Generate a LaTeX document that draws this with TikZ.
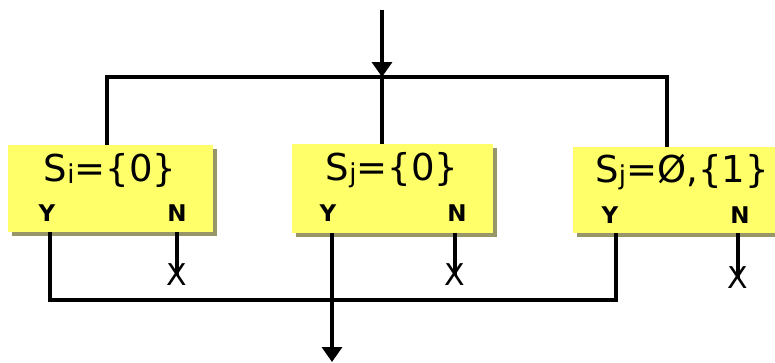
\documentclass[tikz,border=0pt]{standalone}
\usepackage{fontspec}
\setmainfont{DejaVu Sans}
\usetikzlibrary{arrows.meta,shadows}
\definecolor{boxyellow}{RGB}{255,255,105}
\definecolor{shadowc}{RGB}{150,150,105}
\newcommand{\subsc}[1]{{\fontsize{26}{26}\selectfont\raisebox{-2pt}{#1}}}
\begin{document}
\begin{tikzpicture}[x=1pt,y=-1pt,
  box/.style={fill=boxyellow, inner sep=0pt,
    drop shadow={shadow xshift=3.5pt,shadow yshift=-3.5pt,fill=shadowc,opacity=1}},
  big/.style={font=\fontsize{37}{42}\selectfont, inner sep=0pt},
  yn/.style={font=\fontsize{23}{26}\selectfont\bfseries, inner sep=0pt},
  xmark/.style={font=\fontsize{30}{34}\selectfont, inner sep=0pt},
  wire/.style={line width=3.4pt},
  arr/.style={-{Triangle[width=20pt,length=15pt]}}]
\useasboundingbox (0,0) rectangle (775,362);
\clip (0,0) rectangle (775,362);
% boxes
\node[box, minimum width=205pt, minimum height=87pt] (b1) at (110.5,188.5) {};
\node[box, minimum width=201pt, minimum height=89pt] (b2) at (392.5,188.5) {};
\node[box, minimum width=215pt, minimum height=86pt] (b3) at (680.5,190) {};
% texts
\node[big] (t1) at (110,170) {S\subsc{i}=\{0\}};
\node[big] (t2) at (392,170) {S\subsc{j}=\{0\}};
\node[big] (t3) at (682,172) {S\subsc{j}=Ø,\{1\}};
\node[yn] (y1) at (47,213) {Y};
\node[yn] (n1) at (177,213) {N};
\node[yn] (y2) at (328,213) {Y};
\node[yn] (n2) at (457,213) {N};
\node[yn] (y3) at (610,215) {Y};
\node[yn] (n3) at (740,215) {N};
% X marks
\node[xmark] (x1) at (177,275) {X};
\node[xmark] (x2) at (455,275) {X};
\node[xmark] (x3) at (738,278) {X};
% coordinates
\coordinate (in) at (382,10);
\coordinate (hub) at (382,77);
\coordinate (lft) at (107,77);
\coordinate (rgt) at (667,77);
\coordinate (c1) at (50,300);
\coordinate (c3) at (616,300);
\coordinate (mid) at (332,300);
\coordinate (out) at (332,362);
% top distribution
\draw[wire,arr] (in) -- (hub);
\draw[wire] (b1.north -| lft) -- (lft) -- (rgt) -- (b3.north -| rgt);
\draw[wire] (hub) -- (b2.north -| hub);
% bottom collection
\draw[wire] (b1.south -| c1) -- (c1) -- (c3) -- (b3.south -| c3);
\draw[wire,arr] (b2.south -| mid) -- (out);
% N exits
\draw[wire] (b1.south -| x1) -- (x1.center);
\draw[wire] (b2.south -| x2) -- (x2.center);
\draw[wire] (b3.south -| x3) -- (x3.center);
\end{tikzpicture}
\end{document}
